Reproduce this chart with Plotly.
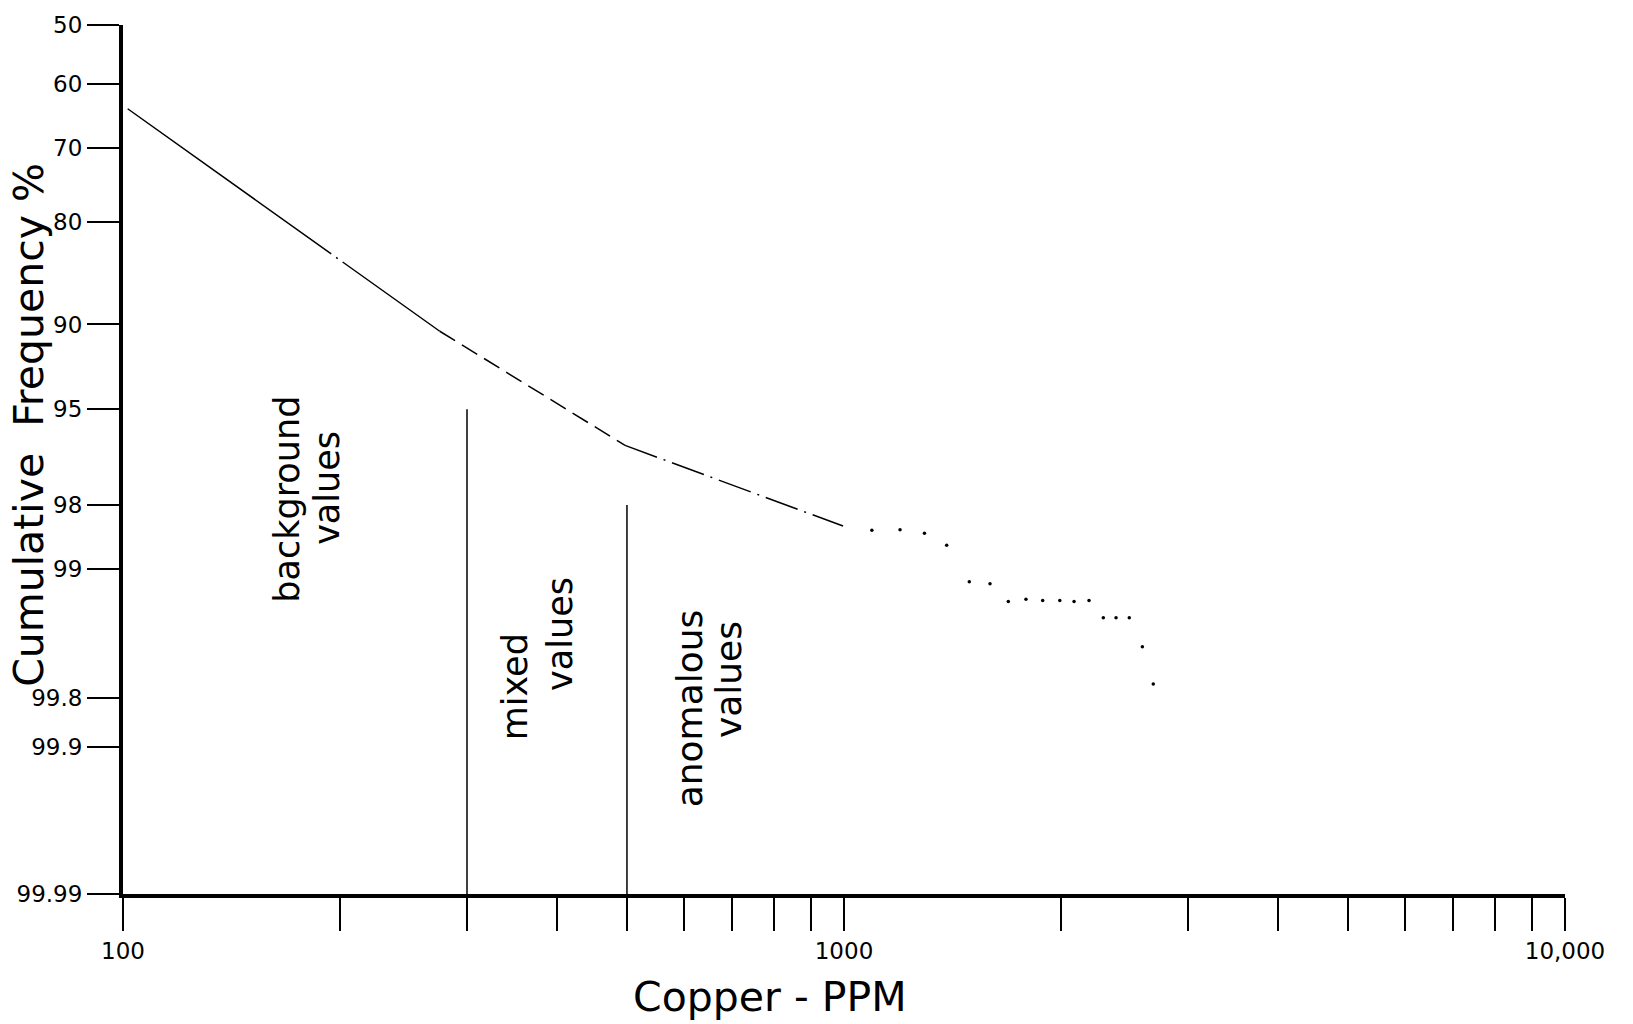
import plotly.graph_objects as go
from statistics import NormalDist

_nd = NormalDist()


def probit(p):
    """Probability-paper scale: cumulative % -> standard normal quantile."""
    return _nd.inv_cdf(p / 100.0)


# ---------------- data ----------------
prob_ticks = [50, 60, 70, 80, 90, 95, 98, 99, 99.8, 99.9, 99.99]
prob_tick_labels = ["50", "60", "70", "80", "90", "95", "98", "99", "99.8", "99.9", "99.99"]

ppm_ticks = [100, 200, 300, 400, 500, 600, 700, 800, 900,
             1000, 2000, 3000, 4000, 5000, 6000, 7000, 8000, 9000, 10000]
ppm_tick_labels = ["100", "", "", "", "", "", "", "", "",
                   "1000", "", "", "", "", "", "", "", "", "10,000"]

# fitted cumulative-frequency curve, three line styles
solid_ppm = [101.5, 275]
solid_pct = [64.0, 90.5]
dashed_ppm = [275, 497]
dashed_pct = [90.5, 96.4]
dashdot_ppm = [497, 997]
dashdot_pct = [96.4, 98.4]

# dotted continuation (individual plotted points)
dots_ppm = [1093, 1196, 1293, 1388, 1492, 1594, 1690, 1788, 1886, 1992,
            2085, 2187, 2289, 2384, 2487, 2593, 2685]
dots_pct = [98.47, 98.46, 98.52, 98.70, 99.14, 99.16, 99.32, 99.30, 99.31, 99.31,
            99.32, 99.31, 99.44, 99.44, 99.44, 99.61, 99.76]

# population boundaries (ppm) and the cumulative % where each divider starts
boundary_ppm = [300, 500]
boundary_top_pct = [95, 98]
bottom_pct = 99.99

zone_labels = [("background", "values"), ("mixed", "values"), ("anomalous", "values")]

# ---------------- figure ----------------
FONT = "DejaVu Sans"
fig = go.Figure()

fig.add_trace(go.Scatter(x=solid_ppm, y=[probit(p) for p in solid_pct], mode="lines",
                         line=dict(color="black", width=1.5, dash="250px,6px,2px,6px"),
                         hoverinfo="skip", showlegend=False))
fig.add_trace(go.Scatter(x=dashed_ppm, y=[probit(p) for p in dashed_pct], mode="lines",
                         line=dict(color="black", width=1.5, dash="18px,8px"),
                         hoverinfo="skip", showlegend=False))
fig.add_trace(go.Scatter(x=dashdot_ppm, y=[probit(p) for p in dashdot_pct], mode="lines",
                         line=dict(color="black", width=1.5, dash="34px,7px,2px,7px"),
                         hoverinfo="skip", showlegend=False))
fig.add_trace(go.Scatter(x=dots_ppm, y=[probit(p) for p in dots_pct], mode="markers",
                         marker=dict(color="black", size=3.5),
                         hoverinfo="skip", showlegend=False))

for bx, btop in zip(boundary_ppm, boundary_top_pct):
    fig.add_trace(go.Scatter(x=[bx, bx], y=[probit(btop), probit(bottom_pct)], mode="lines",
                             line=dict(color="black", width=1.5),
                             hoverinfo="skip", showlegend=False))

# rotated zone labels (paper coordinates)
label_pos = [((0.1137, 0.4549), (0.1415, 0.4674)),
             ((0.2718, 0.2389), (0.3031, 0.2994)),
             ((0.3925, 0.2137), (0.4200, 0.2469))]
label_sizes = [35, 35, 36]
for (l1, l2), (p1, p2), fs in zip(zone_labels, label_pos, label_sizes):
    for txt, (px, py) in ((l1, p1), (l2, p2)):
        fig.add_annotation(text=txt, x=px, y=py, xref="paper", yref="paper",
                           xanchor="center", yanchor="middle", textangle=-90,
                           showarrow=False, font=dict(family=FONT, size=fs, color="black"))

# axis titles
fig.add_annotation(text="Copper - PPM", x=0.4487, y=-0.119, xref="paper", yref="paper",
                   xanchor="center", yanchor="middle", showarrow=False,
                   font=dict(family=FONT, size=41, color="black"))
fig.add_annotation(text="Cumulative&nbsp;&nbsp;Frequency %", x=-0.0648, y=0.5394,
                   xref="paper", yref="paper",
                   xanchor="center", yanchor="middle", textangle=-90, showarrow=False,
                   font=dict(family=FONT, size=41, color="black"))

fig.update_xaxes(type="log", range=[2, 4], tickvals=ppm_ticks, ticktext=ppm_tick_labels,
                 showgrid=False, zeroline=False, showline=True, linewidth=4, linecolor="black",
                 ticks="outside", ticklen=33, tickwidth=1.8, tickcolor="black",
                 tickfont=dict(family=FONT, size=23, color="black"))
fig.update_yaxes(range=[probit(99.99), probit(50)],
                 tickvals=[probit(p) for p in prob_ticks], ticktext=prob_tick_labels,
                 showgrid=False, zeroline=False, showline=True, linewidth=4, linecolor="black",
                 ticks="outside", ticklen=32, tickwidth=2, tickcolor="black",
                 tickfont=dict(family=FONT, size=23, color="black"))

fig.update_layout(width=1633, height=1024, margin=dict(l=123, r=68, t=19, b=130),
                  paper_bgcolor="white", plot_bgcolor="white", showlegend=False)

fig.write_html("out.html")
